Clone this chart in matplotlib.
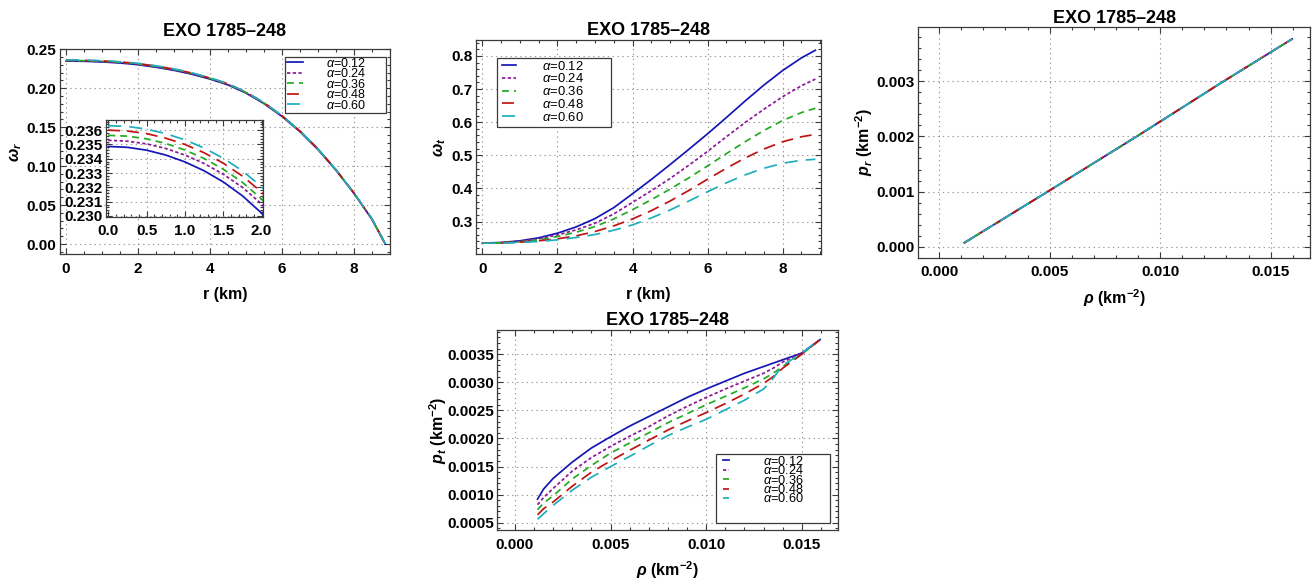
"""EXO 1785-248: anisotropy profiles and EoS panels for several alpha values."""

import matplotlib

matplotlib.use("Agg")
import matplotlib.pyplot as plt
from matplotlib.patches import Rectangle
from matplotlib.ticker import AutoMinorLocator, FormatStrFormatter

TITLE = "EXO 1785\u2013248"
ALPHAS = ["0.12", "0.24", "0.36", "0.48", "0.60"]
COLORS = ["#1616b4", "#8c1a96", "#24aa24", "#c01414", "#1eaebe"]
DASHES = ["-", (0, (2.4, 1.7)), (0, (5.0, 3.6)), (0, (8.6, 5.0)), (0, (9.4, 5.8))]

# omega_r(r), panel 1 (also used by the inset)
r_wr = [0, 0.25, 0.5, 0.75, 1.0, 1.25, 1.5, 1.75, 2.0, 2.5, 3, 3.5, 4, 4.5,
        5, 5.5, 6, 6.5, 7, 7.5, 8, 8.5, 8.87]
wr_012 = [0.23486, 0.23480, 0.23460, 0.23426, 0.23378, 0.23316, 0.23238, 0.23141, 0.23020,
          0.2270, 0.2230, 0.2180, 0.2118, 0.2043, 0.1938, 0.1803, 0.1638, 0.1443, 0.1213,
          0.0948, 0.0651, 0.0318, 0.0]
wr_024 = [0.23529, 0.23523, 0.23504, 0.23472, 0.23426, 0.23367, 0.23292, 0.23200, 0.23084,
          0.2276, 0.2236, 0.2186, 0.2124, 0.2048, 0.1943, 0.1807, 0.1642, 0.1446, 0.1216,
          0.0950, 0.0652, 0.0319, 0.0]
wr_036 = [0.23564, 0.23558, 0.23539, 0.23507, 0.23461, 0.23402, 0.23327, 0.23235, 0.23119,
          0.2280, 0.2240, 0.2190, 0.2127, 0.2051, 0.1946, 0.1810, 0.1644, 0.1448, 0.1218,
          0.0952, 0.0653, 0.0320, 0.0]
wr_048 = [0.23600, 0.23594, 0.23576, 0.23544, 0.23500, 0.23442, 0.23369, 0.23279, 0.23167,
          0.2285, 0.2245, 0.2194, 0.2131, 0.2055, 0.1949, 0.1813, 0.1647, 0.1450, 0.1220,
          0.0953, 0.0654, 0.0320, 0.0]
wr_060 = [0.23631, 0.23626, 0.23607, 0.23576, 0.23532, 0.23475, 0.23404, 0.23315, 0.23205,
          0.2289, 0.2249, 0.2198, 0.2135, 0.2058, 0.1952, 0.1815, 0.1649, 0.1452, 0.1221,
          0.0954, 0.0655, 0.0321, 0.0]

# omega_t(r), panel 2
r_wt = [0, 0.5, 1, 1.5, 2, 2.5, 3, 3.5, 4, 4.5, 5, 5.5, 6, 6.5, 7, 7.5, 8, 8.5, 8.87]
wt_012 = [0.235, 0.237, 0.242, 0.251, 0.265, 0.284, 0.309, 0.342, 0.384, 0.427, 0.472,
          0.518, 0.565, 0.614, 0.664, 0.712, 0.756, 0.794, 0.817]
wt_024 = [0.235, 0.236, 0.240, 0.248, 0.260, 0.275, 0.295, 0.323, 0.358, 0.393, 0.430,
          0.470, 0.512, 0.556, 0.599, 0.639, 0.677, 0.710, 0.730]
wt_036 = [0.235, 0.236, 0.239, 0.245, 0.255, 0.268, 0.285, 0.308, 0.336, 0.366, 0.398,
          0.432, 0.468, 0.505, 0.541, 0.575, 0.605, 0.629, 0.642]
wt_048 = [0.235, 0.236, 0.238, 0.242, 0.248, 0.257, 0.270, 0.287, 0.308, 0.333, 0.362,
          0.394, 0.428, 0.461, 0.492, 0.519, 0.541, 0.556, 0.563]
wt_060 = [0.235, 0.235, 0.237, 0.240, 0.245, 0.252, 0.261, 0.274, 0.290, 0.311, 0.335,
          0.362, 0.390, 0.417, 0.441, 0.461, 0.476, 0.485, 0.488]

# p_r(rho), panel 3 (same for every alpha)
rho_r = [0.00114, 0.005, 0.00894, 0.01287, 0.01598]
p_r = [0.00007, 0.00102, 0.00200, 0.00300, 0.00377]

# p_t(rho), panel 4
rho_t = [0.00118, 0.0015, 0.002, 0.003, 0.004, 0.005, 0.006, 0.007, 0.008, 0.009,
         0.010, 0.011, 0.012, 0.013, 0.0135, 0.014, 0.015, 0.01596]
pt_012 = [0.00092, 0.00110, 0.00129, 0.00158, 0.00183, 0.00203, 0.00222, 0.00239, 0.00256,
          0.00273, 0.00288, 0.00302, 0.00316, 0.00328, 0.00334, 0.00340, 0.00352, 0.00376]
pt_024 = [0.00082, 0.00095, 0.00111, 0.00142, 0.00166, 0.00186, 0.00204, 0.00221, 0.00240,
          0.00257, 0.00273, 0.00288, 0.00302, 0.00316, 0.00325, 0.00336, 0.00352, 0.00376]
pt_036 = [0.00073, 0.00085, 0.00098, 0.00128, 0.00152, 0.00174, 0.00192, 0.00210, 0.00228,
          0.00244, 0.00260, 0.00275, 0.00290, 0.00306, 0.00316, 0.00328, 0.00350, 0.00376]
pt_048 = [0.00064, 0.00075, 0.00087, 0.00115, 0.00140, 0.00160, 0.00179, 0.00197, 0.00215,
          0.00231, 0.00246, 0.00262, 0.00279, 0.00298, 0.00310, 0.00325, 0.00350, 0.00376]
pt_060 = [0.00056, 0.00066, 0.00081, 0.00108, 0.00131, 0.00150, 0.00168, 0.00187, 0.00205,
          0.00220, 0.00234, 0.00251, 0.00268, 0.00288, 0.00307, 0.00330, 0.00352, 0.00376]


def style():
    plt.rcParams.update({
        "font.family": ["Liberation Sans", "DejaVu Sans"],
        "mathtext.fontset": "custom",
        "mathtext.rm": "Liberation Sans:bold",
        "mathtext.it": "Liberation Sans:italic",
        "mathtext.bf": "Liberation Sans:bold:italic",
        "lines.scale_dashes": False,
        "lines.linewidth": 1.25,
        "axes.linewidth": 0.9,
        "axes.edgecolor": "#3a3a3a",
    })


def frame(ax, xt, yt, xfmt, yfmt, xlim, ylim, xminor, yminor):
    ax.set_xlim(*xlim)
    ax.set_ylim(*ylim)
    ax.set_xticks(xt)
    ax.set_yticks(yt)
    ax.xaxis.set_major_formatter(FormatStrFormatter(xfmt))
    ax.yaxis.set_major_formatter(FormatStrFormatter(yfmt))
    ax.xaxis.set_minor_locator(AutoMinorLocator(xminor))
    ax.yaxis.set_minor_locator(AutoMinorLocator(yminor))
    ax.tick_params(which="both", direction="in", top=True, right=True, colors="#3a3a3a",
                   labelcolor="black", width=0.8)
    ax.tick_params(which="major", length=4.5)
    ax.tick_params(which="minor", length=2.5)
    ax.tick_params(axis="x", pad=5.5, labelsize=11)
    ax.tick_params(axis="y", pad=2.5, labelsize=11)
    for lab in ax.get_xticklabels() + ax.get_yticklabels():
        lab.set_fontweight("bold")
    ax.grid(True, which="major", linestyle=(0, (1, 2.5)), color="#9a9a9a", linewidth=0.8)


def labels(ax, xlabel, ylabel, xly, ylx, pad):
    ax.set_title(TITLE, fontsize=13, fontweight="bold", pad=pad)
    ax.set_xlabel(xlabel, fontsize=11.5, fontweight="bold")
    ax.set_ylabel(ylabel, fontsize=11.5, fontweight="bold")
    ax.xaxis.set_label_coords(0.5, xly)
    ax.yaxis.set_label_coords(ylx, 0.5)


def legend_box(ax, handles, box, anchor, fontsize, spacing, hlen, hpad):
    ax.add_patch(Rectangle((box[0], box[1]), box[2] - box[0], box[3] - box[1],
                           transform=ax.transAxes, facecolor="white", edgecolor="#3a3a3a",
                           linewidth=0.9, zorder=4))
    leg = ax.legend(handles=handles, loc="upper left", bbox_to_anchor=anchor,
                    borderaxespad=0, borderpad=0, fontsize=fontsize, frameon=False,
                    labelspacing=spacing, handlelength=hlen, handletextpad=hpad)
    leg.set_zorder(5)


def main():
    style()
    fig = plt.figure(figsize=(13.13, 5.8), dpi=100)
    leg_labels = [rf"$\alpha$={a}" for a in ALPHAS]
    rho_label = r"$\mathbf{\rho}$ (km$^{-2}$)"

    # panel 1: omega_r
    ax1 = fig.add_axes([0.0457, 0.5621, 0.2513, 0.3534])
    wr = [wr_012, wr_024, wr_036, wr_048, wr_060]
    h1 = []
    for y, c, ls, lab in zip(wr, COLORS, DASHES, leg_labels):
        h1.append(ax1.plot(r_wr, y, color=c, linestyle=ls, label=lab)[0])
    frame(ax1, [0, 2, 4, 6, 8], [0, 0.05, 0.10, 0.15, 0.20, 0.25], "%d", "%.2f",
          (-0.17, 9.0), (-0.0128, 0.2504), 4, 5)
    labels(ax1, "r (km)", r"$\mathbf{\omega_r}$", -0.161, -0.11, 9.5)
    legend_box(ax1, h1, (0.682, 0.689, 0.987, 0.962), (0.688, 0.962), 9.0, -0.2, 1.3, 1.85)

    ins = fig.add_axes([0.0807, 0.6259, 0.1193, 0.1672])
    for y, c, ls in zip(wr, COLORS, DASHES):
        ins.plot(r_wr, y, color=c, linestyle=ls)
    frame(ins, [0, 0.5, 1.0, 1.5, 2.0], [0.230, 0.231, 0.232, 0.233, 0.234, 0.235, 0.236],
          "%.1f", "%.3f", (-0.03, 2.013), (0.22993, 0.23671), 5, 5)
    ins.tick_params(axis="x", pad=5)

    # panel 2: omega_t
    ax2 = fig.add_axes([0.3623, 0.5621, 0.2630, 0.3690])
    wt = [wt_012, wt_024, wt_036, wt_048, wt_060]
    h2 = []
    for y, c, ls, lab in zip(wt, COLORS, DASHES, leg_labels):
        h2.append(ax2.plot(r_wt, y, color=c, linestyle=ls, label=lab)[0])
    frame(ax2, [0, 2, 4, 6, 8], [0.3, 0.4, 0.5, 0.6, 0.7, 0.8], "%d", "%.1f",
          (-0.176, 9.02), (0.2023, 0.848), 4, 5)
    labels(ax2, "r (km)", r"$\mathbf{\omega_t}$", -0.154, -0.08, 3.5)
    legend_box(ax2, h2, (0.0608, 0.592, 0.3918, 0.9145), (0.0753, 0.908), 9.4, -0.02, 1.1, 1.95)

    # panel 3: p_r vs rho
    ax3 = fig.add_axes([0.6994, 0.5557, 0.2983, 0.3972])
    for c, ls in zip(COLORS, DASHES):
        ax3.plot(rho_r, p_r, color=c, linestyle=ls)
    frame(ax3, [0, 0.005, 0.010, 0.015], [0, 0.001, 0.002, 0.003], "%.3f", "%.3f",
          (-0.00094, 0.01678), (-0.0002, 0.00398), 5, 5)
    labels(ax3, rho_label, r"$\mathbf{p_r}$ (km$^{-2}$)", -0.127, -0.11, 2.5)

    # panel 4: p_t vs rho
    ax4 = fig.add_axes([0.3788, 0.0862, 0.2597, 0.3448])
    pt = [pt_012, pt_024, pt_036, pt_048, pt_060]
    h4 = []
    for y, c, ls, lab in zip(pt, COLORS, DASHES, leg_labels):
        h4.append(ax4.plot(rho_t, y, color=c, linestyle=ls, label=lab)[0])
    frame(ax4, [0, 0.005, 0.010, 0.015],
          [0.0005, 0.0010, 0.0015, 0.0020, 0.0025, 0.0030, 0.0035], "%.3f", "%.4f",
          (-0.00092, 0.01691), (0.00037, 0.00393), 5, 5)
    labels(ax4, rho_label, r"$\mathbf{p_t}$ (km$^{-2}$)", -0.145, -0.142, 3.5)
    legend_box(ax4, h4, (0.6413, 0.0365, 0.9757, 0.38), (0.661, 0.3765), 9.2, -0.28, 0.45, 2.7)

    fig.savefig("out.png", dpi=100)
    plt.close(fig)


if __name__ == "__main__":
    main()
